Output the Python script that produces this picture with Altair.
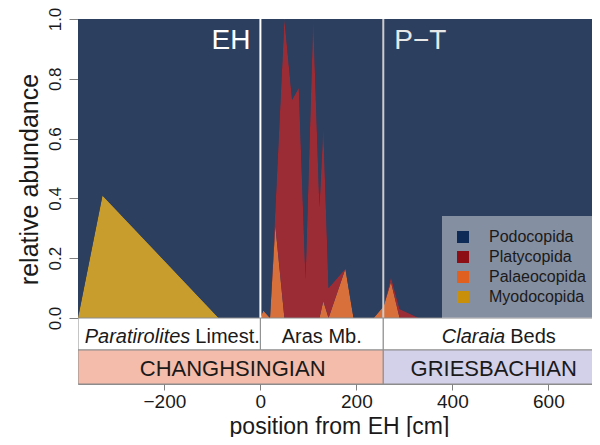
import altair as alt
import pandas as pd

# ---- data ----
POS = [-380, -329, -87, 0, 6, 20, 31, 50, 66, 80, 94, 110, 123, 131, 142, 177, 194, 236, 257, 272, 290, 330, 740]
MYODOCOPIDA = [0, 0.41, 0, 0, 0, 0, 0, 0, 0, 0, 0, 0, 0, 0, 0, 0, 0, 0, 0, 0, 0, 0, 0]
PALAEOCOPIDA = [0, 0, 0, 0, 0.025, 0, 0.31, 0, 0, 0, 0, 0, 0, 0.057, 0, 0.165, 0, 0, 0.04, 0.12, 0, 0, 0]
PLATYCOPIDA = [0, 0, 0, 0, 0, 0, 0.05, 1.0, 0.73, 0.77, 0.13, 1.0, 0.37, 0.58, 0.10, 0, 0, 0, 0, 0.016, 0.03, 0, 0]

GROUPS = ["Podocopida", "Platycopida", "Palaeocopida", "Myodocopida"]
GROUP_COLORS = ["#2d3f5f", "#9b2c35", "#d8703b", "#c99d2d"]
SYMBOL_COLORS = ["#0e2a56", "#8e0e16", "#e06020", "#c8900a"]

EVENTS = ["EH", "P\u2212T"]
EVENT_POS = [0, 256]
EVENT_LINE_COLORS = ["#ffffff", "#cccccc"]

FORM_START = [-380, 0, 256]
FORM_END = [0, 256, 740]
FORM_ITALIC = ["Paratirolites", "", "Claraia"]
FORM_ROMAN = ["Limest.", "Aras Mb.", "Beds"]
FORM_SPLIT = [-146, 34, 510]

STAGE_START = [-380, 256]
STAGE_END = [256, 740]
STAGE_NAMES = ["CHANGHSINGIAN", "GRIESBACHIAN"]
STAGE_FILLS = ["#f4bcaa", "#d3d0e9"]

X_TICKS = [-200, 0, 200, 400, 600]
Y_TICKS = [0, 0.2, 0.4, 0.6, 0.8, 1.0]

PLOT_W = 514
PX_PER_CM = 0.48
PLOT_H = 299            # pixels for 0..1
FORM_H = 32
STAGE_H = 34
X_DOMAIN = [-380, -380 + PLOT_W / PX_PER_CM]
Y_MIN = -(FORM_H + STAGE_H) / PLOT_H
Y_DOMAIN = [Y_MIN, 1.0]
FORM_BAND = [-FORM_H / PLOT_H, 0.0]
STAGE_BAND = [Y_MIN, -FORM_H / PLOT_H]

FONT = "Liberation Sans"
TXT = "#1a1a1a"

# ---- stacked table ----
rows = []
for i, p in enumerate(POS):
    lo = 0.0
    for g, vals in [("Myodocopida", MYODOCOPIDA), ("Palaeocopida", PALAEOCOPIDA), ("Platycopida", PLATYCOPIDA)]:
        rows.append({"pos": p, "group": g, "lo": lo, "hi": lo + vals[i]})
        lo += vals[i]
    rows.append({"pos": p, "group": "Podocopida", "lo": lo, "hi": 1.0})
df = pd.DataFrame(rows)

xscale = alt.Scale(domain=X_DOMAIN, nice=False, zero=False)
yscale = alt.Scale(domain=Y_DOMAIN, nice=False, zero=False)

area = alt.Chart(df).mark_area(clip=True, interpolate="linear").encode(
    x=alt.X("pos:Q", scale=xscale,
            axis=alt.Axis(values=X_TICKS, tickSize=6, tickColor="#808080", domain=False, grid=False,
                          labelFontSize=19, labelBaseline="alphabetic", labelPadding=17,
                          labelColor=TXT, labelFlush=False, labelOverlap=False,
                          title="position from EH [cm]", titleFontSize=23, titleBaseline="alphabetic",
                          titleY=49, titleX=261, titleColor=TXT, titleFontWeight="normal")),
    y=alt.Y("lo:Q", scale=yscale,
            axis=alt.Axis(values=Y_TICKS, format=".1f", labelAngle=270, labelAlign="center",
                          labelBaseline="alphabetic", labelPadding=9, tickSize=9, tickColor="#808080",
                          domain=False, grid=False, labelFontSize=17, labelColor=TXT,
                          title="relative abundance", titleFontSize=25, titleAngle=270,
                          titleAlign="center", titleBaseline="alphabetic", titleX=-41, titleY=160,
                          titleColor=TXT, titleFontWeight="normal")),
    y2="hi:Q",
    color=alt.Color("group:N", scale=alt.Scale(domain=GROUPS, range=GROUP_COLORS), legend=None),
)

legend_layer = alt.Chart(df).mark_square(opacity=0).encode(
    x=alt.X("pos:Q", scale=xscale),
    y=alt.Y("hi:Q", scale=yscale),
    fill=alt.Fill("group:N", scale=alt.Scale(domain=GROUPS, range=SYMBOL_COLORS),
                  legend=alt.Legend(title=None, orient="none", legendX=364, legendY=197,
                                    fillColor="rgba(255,255,255,0.42)", padding=13,
                                    symbolType="square", symbolSize=144, symbolStrokeWidth=0,
                                    symbolOpacity=1, labelFontSize=16, labelFont=FONT,
                                    labelColor=TXT, rowPadding=4, labelOffset=18)),
)

ev = pd.DataFrame({"name": EVENTS, "pos": EVENT_POS, "col": EVENT_LINE_COLORS})
lines = alt.Chart(ev).mark_rule(strokeWidth=2).encode(
    x=alt.X("pos:Q", scale=xscale),
    y=alt.datum(0), y2=alt.datum(1),
    stroke=alt.Stroke("col:N", scale=None),
)
eh_text = alt.Chart(ev.iloc[[0]]).mark_text(align="right", baseline="alphabetic", dx=-10,
                                             fontSize=28, font=FONT, color="#ffffff").encode(
    x=alt.X("pos:Q", scale=xscale), y=alt.datum(0.9), text="name:N")
pt_text = alt.Chart(ev.iloc[[1]]).mark_text(align="left", baseline="alphabetic", dx=11,
                                             fontSize=28, font=FONT, color="#e8e8e8").encode(
    x=alt.X("pos:Q", scale=xscale), y=alt.datum(0.9), text="name:N")

form = pd.DataFrame({"start": FORM_START, "end": FORM_END, "it": FORM_ITALIC,
                     "rm": FORM_ROMAN, "split": FORM_SPLIT})
form_rect = alt.Chart(form).mark_rect(clip=True, fill="#ffffff", stroke="#8c8c8c", strokeWidth=1).encode(
    x=alt.X("start:Q", scale=xscale), x2="end:Q",
    y=alt.datum(FORM_BAND[0]), y2=alt.datum(FORM_BAND[1]))
mid_form = (FORM_BAND[0] + FORM_BAND[1]) / 2
form_it = alt.Chart(form).mark_text(align="right", baseline="middle", dy=3, fontSize=20,
                                    font=FONT, fontStyle="italic", color=TXT).encode(
    x=alt.X("split:Q", scale=xscale), y=alt.datum(mid_form), text="it:N")
form_rm = alt.Chart(form).mark_text(align="left", baseline="middle", dy=3, dx=5, fontSize=20,
                                    font=FONT, color=TXT).encode(
    x=alt.X("split:Q", scale=xscale), y=alt.datum(mid_form), text="rm:N")

stage = pd.DataFrame({"start": STAGE_START, "end": STAGE_END, "name": STAGE_NAMES, "col": STAGE_FILLS})
stage["mid"] = (stage["start"] + stage["end"].clip(upper=707.5)) / 2
stage_rect = alt.Chart(stage).mark_rect(clip=True, stroke="#8c8c8c", strokeWidth=1).encode(
    x=alt.X("start:Q", scale=xscale), x2="end:Q",
    y=alt.datum(STAGE_BAND[0]), y2=alt.datum(STAGE_BAND[1]),
    color=alt.Color("col:N", scale=None, legend=None))
mid_stage = (STAGE_BAND[0] + STAGE_BAND[1]) / 2
stage_text = alt.Chart(stage).mark_text(align="center", baseline="middle", dy=2, dx=2, fontSize=22,
                                        font=FONT, color=TXT).encode(
    x=alt.X("mid:Q", scale=xscale), y=alt.datum(mid_stage), text="name:N")

chart = alt.layer(area, lines, eh_text, pt_text, form_rect, form_it, form_rm,
                  stage_rect, stage_text, legend_layer).resolve_scale(
    color="independent", fill="independent"
).properties(
    width=PLOT_W, height=PLOT_H + FORM_H + STAGE_H,
    autosize=alt.AutoSizeParams(type="none"),
    padding={"left": 70, "top": 11, "right": 0, "bottom": 53},
).configure_view(stroke="#8c8c8c", strokeWidth=1, fill="#2d3f5f").configure_axis(
    labelFont=FONT, titleFont=FONT)

chart.save("out.html", embed_options={"renderer": "svg", "actions": False})
